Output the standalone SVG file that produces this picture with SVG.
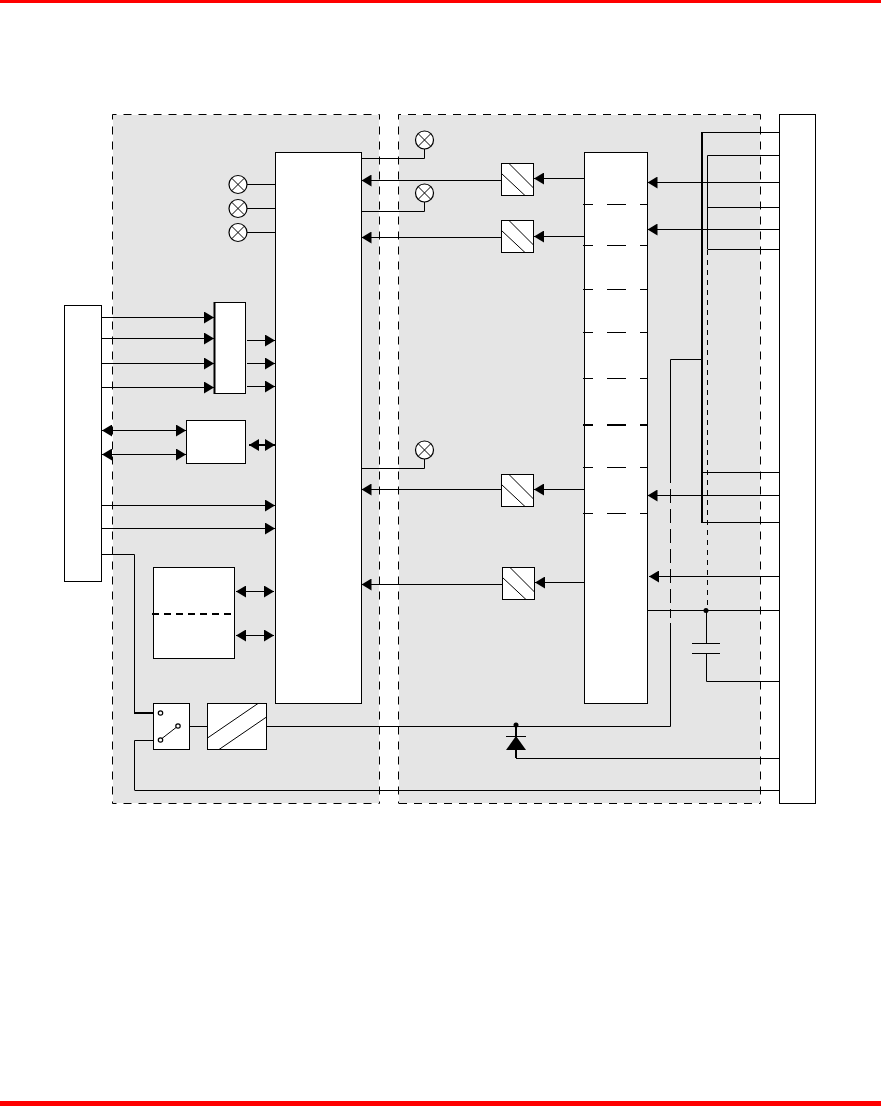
<svg xmlns="http://www.w3.org/2000/svg" width="881" height="1106" viewBox="0 0 881 1106">
<style>
.panel{fill:#e5e5e5;stroke:none}
.edge{fill:none;stroke:#000;stroke-width:1;stroke-dasharray:8 7}
.box{fill:#fff;stroke:#000;stroke-width:1}
.w{fill:none;stroke:#000;stroke-width:1}
.t{fill:none;stroke:#000;stroke-width:2}
.a{marker-end:url(#ah)}
.d{marker-start:url(#ah);marker-end:url(#ah)}
.lamp{fill:#fff;stroke:#000;stroke-width:1.2}
.sep{fill:none;stroke:#000;stroke-width:1;stroke-dasharray:10 14 19 14 10}
.pin{fill:#fff;stroke:#000;stroke-width:1.2}
</style>
<defs>
<marker id="ah" markerUnits="userSpaceOnUse" markerWidth="10" markerHeight="12" refX="10" refY="6" orient="auto-start-reverse"><path d="M0,0L10,6L0,12Z" fill="#000"/></marker>
<g id="lampg"><circle r="9" class="lamp"/><path d="M-6.300,-6.300L6.300,6.300M-6.300,6.300L6.300,-6.300" class="w"/></g>
<g id="conv"><rect x="0.5" y="0.5" width="32" height="32" class="box"/><path d="M0.5,10.5L24,32.5M8,0.5L32.5,25" class="w"/></g>
</defs>
<rect x="0" y="0" width="881" height="3" fill="#f00"/>
<rect x="0" y="1101" width="881" height="5" fill="#f00"/>
<g id="panels">
<rect id="panel-left" x="113" y="115" width="266" height="688" class="panel"/>
<rect id="panel-right" x="399" y="115" width="361" height="688" class="panel"/>
<path class="edge" stroke-dashoffset="4" d="M112.500,114.500H379.500"/>
<path class="edge" stroke-dashoffset="4" d="M112.500,803.500H379.500"/>
<path class="edge" stroke-dashoffset="3" d="M112.500,114.500V803.500"/>
<path class="edge" stroke-dashoffset="3" d="M379.500,114.500V803.500"/>
<path class="edge" stroke-dashoffset="5.500" d="M398.500,114.500H760.500"/>
<path class="edge" stroke-dashoffset="14.500" d="M398.500,803.500H760.500"/>
<path class="edge" stroke-dashoffset="3" d="M398.500,114.500V803.500"/>
<path class="edge" stroke-dashoffset="3" d="M760.500,114.500V803.500"/>
</g>
<g id="connectors">
<path class="w a" d="M779,182.500H647.500"/>
<path class="w a" d="M779,229.500H647.500"/>
<path class="w a" d="M779,495.500H647.500"/>
<path class="w a" d="M779,576.500H649"/>
<path class="w" d="M702,132.500H779M702,472.500H779M702,522.500H779"/>
<path class="t" d="M702,132V523"/>
<path class="w" d="M707.500,249V155.500H779M707.500,207.500H779M707.500,249.500H779"/>
<path class="w" d="M707.500,250V606" style="stroke-dasharray:5 5"/>
<path class="w" d="M646,610.500H779M706.500,610V643.500M692,643.500H720M692,653.500H720M706.500,653V681.500H779"/>
<circle cx="706" cy="610.500" r="2.500" fill="#000"/>
<path class="w" d="M702,359.500H670.500V483"/>
<path class="w" d="M670.500,489V618" style="stroke-dasharray:14 6"/>
<path class="w" d="M670.500,623V726.500H189"/>
<circle cx="516" cy="725" r="2.500" fill="#000"/>
<path class="t" d="M516,725V758"/>
<path class="w" d="M516,758.500H779M506,736.500H526"/>
<path d="M516,736L526,750H506Z" fill="#000"/>
<path class="w" d="M134.500,790.500H779M134.500,790V740.500H160"/>
<path class="w" d="M101,554.500H134.500V713"/>
<path class="t" d="M134,713H158"/>
<path class="w a" d="M501,180.500H361.500"/>
<path class="w a" d="M501,237.500H361.500"/>
<path class="w a" d="M501,489.500H361.500"/>
<path class="w a" d="M502,584.500H361.500"/>
<path class="w a" d="M584,178.500H534"/>
<path class="w a" d="M584,236.500H534"/>
<path class="w a" d="M584,489.500H534"/>
<path class="w a" d="M584,582.500H535"/>
<path class="w" d="M361,158.500H424.500V149M361,211.500H424.500V202M361,468.500H424.500V459"/>
<path class="w" d="M247,184.500H275M247,208.500H275M247,232.500H275"/>
<path class="w a" d="M101,317.500H214"/>
<path class="w a" d="M101,338.500H214"/>
<path class="w a" d="M101,363.500H214"/>
<path class="w a" d="M101,387.500H214"/>
<path class="w a" d="M247,340.500H275"/>
<path class="w a" d="M247,363.500H275"/>
<path class="w a" d="M247,386.500H275"/>
<path class="w d" d="M102,430.500H186"/>
<path class="w d" d="M102,454.500H186"/>
<path class="w d" style="stroke-width:2" d="M249,445H275"/>
<path class="w a" d="M101,505.500H275"/>
<path class="w a" d="M101,528.500H275"/>
<path class="w d" d="M236,591.500H274"/>
<path class="w d" d="M236,635.500H274"/>
</g>
<g id="node-right-bus"><rect x="779.500" y="114.500" width="36" height="689" class="box"/></g>
<g id="node-left-bus"><rect x="64.500" y="305.500" width="37" height="276" class="box"/></g>
<g id="node-main"><rect x="275.500" y="152.500" width="86" height="551" class="box"/></g>
<g id="node-stack">
<rect x="584.500" y="152.500" width="63" height="551" class="box"/>
<path class="sep" d="M583,204.500H648M583,245.500H648M583,289.500H648M583,332.500H648M583,378.500H648M583,467.500H648M583,513.500H648"/>
<path class="sep" style="stroke-width:2" d="M583,425H648"/>
</g>
<g id="node-mux"><rect x="214.500" y="302.500" width="31" height="91" class="box"/><path class="t" d="M214.500,302V394"/></g>
<g id="node-if"><rect x="186.500" y="420.500" width="59" height="43" class="box"/></g>
<g id="node-mem"><rect x="153.500" y="567.500" width="81" height="91" class="box"/><path class="t" d="M152,614H235" style="stroke-dasharray:7 5"/></g>
<g id="node-switch">
<rect x="153.500" y="703.500" width="36" height="46" class="box"/>
<path class="w" d="M160,740L178,726M189,726.500H207"/>
<circle cx="160.500" cy="713" r="2.200" class="pin"/>
<circle cx="160.500" cy="740" r="2.200" class="pin"/>
<circle cx="178" cy="726" r="2.200" class="pin"/>
</g>
<g id="node-psu">
<rect x="207.500" y="703.500" width="59" height="46" class="box"/>
<path class="w" d="M207.500,738L258,703.500M219,749.500L266.500,717"/>
</g>
<g id="node-conv1"><use href="#conv" x="501" y="163"/></g>
<g id="node-conv2"><use href="#conv" x="501" y="220"/></g>
<g id="node-conv3"><use href="#conv" x="501" y="474"/></g>
<g id="node-conv4"><use href="#conv" x="502" y="567"/></g>
<g id="node-lamp1"><use href="#lampg" x="424.500" y="140"/></g>
<g id="node-lamp2"><use href="#lampg" x="424.500" y="193"/></g>
<g id="node-lamp3"><use href="#lampg" x="424.500" y="450"/></g>
<g id="node-lamp4"><use href="#lampg" x="238" y="184.500"/></g>
<g id="node-lamp5"><use href="#lampg" x="238" y="208.500"/></g>
<g id="node-lamp6"><use href="#lampg" x="238" y="232.500"/></g>
</svg>
